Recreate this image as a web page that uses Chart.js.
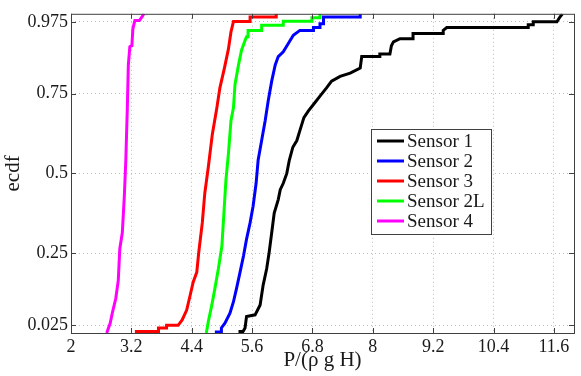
<!DOCTYPE html>
<html lang="en">
	<head>
		<meta charset="utf-8"/>
		<title>Sensor ECDF</title>
		<script src="https://cdn.jsdelivr.net/npm/chart.js@4.4.0/dist/chart.umd.min.js"></script>
		<style>
			body {
				margin: 0;
				background-color: white;
			}
			.container {
				position: relative;
				width: 581px;
				height: 376px;
			}
		</style>
	</head>

	<body>
		<div class="container">
			<canvas id="myChart"></canvas>
		</div>

		<script>
			// tick positions
			const xTicks = [2, 3.2, 4.4, 5.6, 6.8, 8, 9.2, 10.4, 11.6];
			const yTicks = [0.025, 0.25, 0.5, 0.75, 0.975];

			const seriesNames = ['Sensor 1', 'Sensor 2', 'Sensor 3', 'Sensor 2L', 'Sensor 4'];

			// ecdf curves (x, level); flat steps kept as pairs
			const sensor1X = [5.33, 5.42, 5.46, 5.49, 5.66, 5.76, 5.82, 5.89, 5.94, 5.99, 6.04, 6.12, 6.16, 6.22, 6.29, 6.34, 6.41, 6.49, 6.55, 6.63, 6.72, 6.82, 6.95, 7.08, 7.18, 7.35, 7.55, 7.75, 7.78, 8.14, 8.14, 8.34, 8.37, 8.41, 8.54, 8.80, 8.80, 9.40, 9.40, 9.47, 11.09, 11.09, 11.19, 11.19, 11.66, 11.72, 11.77];
			const sensor1Y = [0.005, 0.005, 0.016, 0.052, 0.057, 0.088, 0.15, 0.201, 0.253, 0.314, 0.376, 0.418, 0.449, 0.469, 0.5, 0.541, 0.582, 0.603, 0.634, 0.675, 0.696, 0.716, 0.742, 0.768, 0.789, 0.804, 0.814, 0.83, 0.866, 0.866, 0.874, 0.874, 0.90, 0.912, 0.922, 0.922, 0.938, 0.938, 0.948, 0.957, 0.957, 0.966, 0.966, 0.975, 0.975, 0.99, 1.0];

			const sensor2X = [4.86, 4.99, 4.99, 5.06, 5.16, 5.23, 5.29, 5.36, 5.43, 5.49, 5.56, 5.62, 5.68, 5.72, 5.79, 5.86, 5.92, 5.99, 6.06, 6.12, 6.22, 6.32, 6.42, 6.55, 6.82, 6.82, 6.95, 6.95, 7.02, 7.02, 7.75, 7.75];
			const sensor2Y = [0.003, 0.003, 0.016, 0.031, 0.062, 0.098, 0.139, 0.19, 0.242, 0.294, 0.345, 0.397, 0.469, 0.541, 0.603, 0.665, 0.727, 0.789, 0.84, 0.866, 0.881, 0.907, 0.933, 0.948, 0.948, 0.957, 0.957, 0.969, 0.969, 0.99, 0.99, 1.0];

			const sensor3X = [3.27, 3.74, 3.74, 3.90, 3.90, 4.13, 4.21, 4.30, 4.37, 4.43, 4.50, 4.54, 4.61, 4.66, 4.73, 4.81, 4.90, 4.96, 5.05, 5.13, 5.18, 5.23, 5.56, 5.56, 6.08, 6.08];
			const sensor3Y = [0.005, 0.005, 0.016, 0.016, 0.024, 0.024, 0.041, 0.072, 0.119, 0.16, 0.19, 0.253, 0.345, 0.438, 0.52, 0.623, 0.706, 0.768, 0.83, 0.89, 0.943, 0.976, 0.976, 0.99, 0.99, 1.0];

			const sensor2LX = [4.69, 4.73, 4.80, 4.86, 4.93, 5.00, 5.04, 5.08, 5.13, 5.18, 5.23, 5.26, 5.33, 5.39, 5.45, 5.49, 5.52, 5.52, 5.79, 5.79, 6.22, 6.22, 6.79, 6.79, 6.94, 6.95];
			const sensor2LY = [0, 0.036, 0.088, 0.139, 0.201, 0.273, 0.376, 0.479, 0.562, 0.665, 0.706, 0.778, 0.84, 0.886, 0.912, 0.928, 0.928, 0.948, 0.948, 0.964, 0.964, 0.977, 0.977, 0.988, 0.988, 1.0];

			const sensor4X = [2.71, 2.78, 2.82, 2.89, 2.94, 2.97, 3.02, 3.06, 3.09, 3.12, 3.14, 3.17, 3.21, 3.23, 3.27, 3.36, 3.41, 3.45];
			const sensor4Y = [0, 0.031, 0.062, 0.108, 0.165, 0.264, 0.314, 0.428, 0.542, 0.706, 0.84, 0.897, 0.90, 0.953, 0.979, 0.979, 0.99, 1.0];

			function toPoints(xs, ys) {
				return xs.map((x, i) => ({x: x, y: ys[i]}));
			}

			const serif = "'Liberation Serif', 'Times New Roman', serif";
			const font = {family: serif, size: 18};
			const titleFont = {family: serif, size: 21};
			const textColor = '#1a1a1a';
			const axisColor = '#404040';

			// matlab style box with inward ticks on all four sides
			const boxPlugin = {
				id: 'box',
				afterDraw(chart) {
					const ctx = chart.ctx;
					const a = chart.chartArea;
					const sx = chart.scales.x;
					const sy = chart.scales.y;
					ctx.save();
					ctx.strokeStyle = axisColor;
					ctx.lineWidth = 1;
					ctx.beginPath();
					xTicks.forEach(v => {
						let px = Math.round(sx.getPixelForValue(v)) + 0.5;
						ctx.moveTo(px, a.bottom);
						ctx.lineTo(px, a.bottom - 5);
						ctx.moveTo(px, a.top);
						ctx.lineTo(px, a.top + 5);
					});
					yTicks.forEach(v => {
						let py = Math.round(sy.getPixelForValue(v)) + 0.5;
						ctx.moveTo(a.left, py);
						ctx.lineTo(a.left + 5, py);
						ctx.moveTo(a.right, py);
						ctx.lineTo(a.right - 5, py);
					});
					ctx.stroke();
					ctx.strokeRect(a.left + 0.5, a.top + 0.5, a.right - a.left, a.bottom - a.top);
					ctx.restore();
				}
			};

			// legend box inside the plot, right of centre
			const legendPlugin = {
				id: 'boxLegend',
				afterDraw(chart) {
					const ctx = chart.ctx;
					const left = 371, top = 129, w = 120, h = 105;
					ctx.save();
					ctx.fillStyle = 'white';
					ctx.fillRect(left, top, w, h);
					ctx.strokeStyle = axisColor;
					ctx.lineWidth = 1;
					ctx.strokeRect(left + 0.5, top + 0.5, w, h);
					ctx.font = '19px ' + serif;
					ctx.textBaseline = 'middle';
					chart.data.datasets.forEach((ds, i) => {
						let y = top + 12 + i * 20;
						ctx.strokeStyle = ds.borderColor;
						ctx.lineWidth = 3;
						ctx.beginPath();
						ctx.moveTo(left + 6, y);
						ctx.lineTo(left + 33, y);
						ctx.stroke();
						ctx.fillStyle = textColor;
						ctx.fillText(ds.label, left + 36, y + 1);
					});
					ctx.restore();
				}
			};

			let ch1 = document.getElementById('myChart').getContext('2d');
			let chart1 = new Chart(ch1, {
				type: 'line',
				data: {
					datasets: [
						{label: seriesNames[0], data: toPoints(sensor1X, sensor1Y), borderColor: '#000000'},
						{label: seriesNames[1], data: toPoints(sensor2X, sensor2Y), borderColor: '#0000ff'},
						{label: seriesNames[2], data: toPoints(sensor3X, sensor3Y), borderColor: '#ff0000'},
						{label: seriesNames[3], data: toPoints(sensor2LX, sensor2LY), borderColor: '#00ff00'},
						{label: seriesNames[4], data: toPoints(sensor4X, sensor4Y), borderColor: '#ff00ff'}
					]
				},
				options: {
					responsive: true,
					maintainAspectRatio: false,
					animation: false,
					layout: {padding: {top: 11, right: 7, left: 0, bottom: 0}},
					elements: {
						point: {radius: 0},
						line: {borderWidth: 3, tension: 0, fill: false, borderJoinStyle: 'miter'}
					},
					plugins: {
						legend: {display: false},
						tooltip: {enabled: false}
					},
					scales: {
						x: {
							type: 'linear',
							min: 2,
							max: 12,
							afterBuildTicks: s => { s.ticks = xTicks.map(v => ({value: v})); },
							afterFit: s => { s.height = 43; },
							ticks: {font: font, color: textColor, padding: 3, maxRotation: 0, callback: v => String(v)},
							grid: {color: '#bdbdbd', drawTicks: false},
							border: {display: false, dash: [1, 3]},
							title: {display: true, text: 'P/(ρ g H)', font: titleFont, color: textColor, padding: {top: 0, bottom: 3}}
						},
						y: {
							type: 'linear',
							min: 0,
							max: 1,
							afterBuildTicks: s => { s.ticks = yTicks.map(v => ({value: v})); },
							afterFit: s => { s.width = 71; },
							ticks: {font: font, color: textColor, padding: 3, callback: v => String(v)},
							grid: {color: '#bdbdbd', drawTicks: false},
							border: {display: false, dash: [1, 3]},
							title: {display: true, text: 'ecdf', font: titleFont, color: textColor, padding: {top: 1, bottom: 0}}
						}
					}
				},
				plugins: [boxPlugin, legendPlugin]
			});
		</script>
	</body>
</html>
